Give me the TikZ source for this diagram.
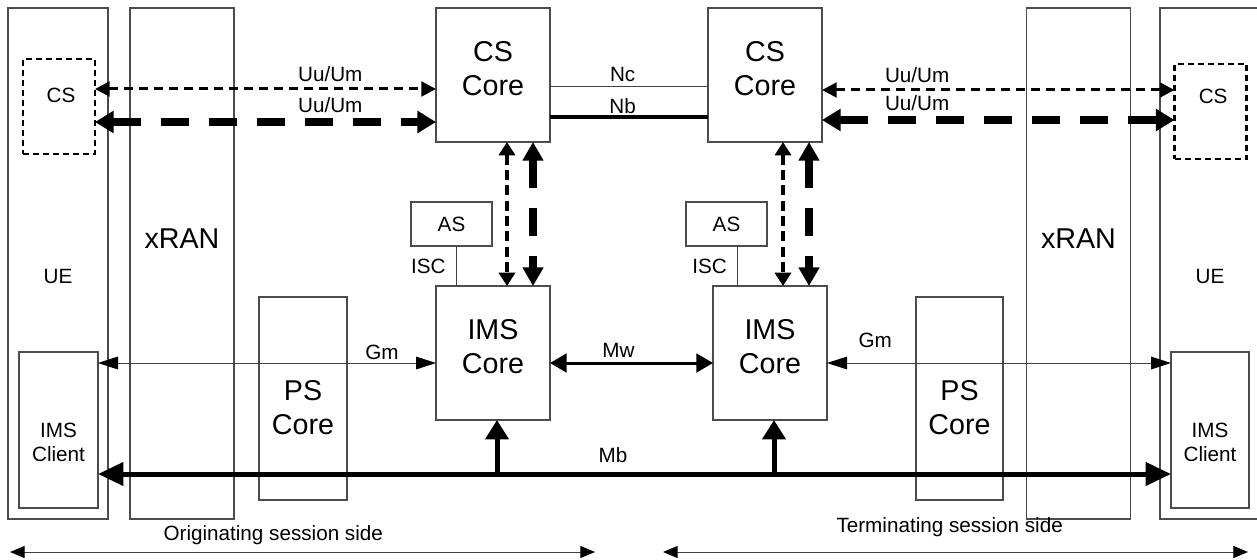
\documentclass[tikz,border=0pt]{standalone}
\usepackage{fontspec}
\setmainfont{Liberation Sans}
\usetikzlibrary{arrows.meta}

\begin{document}
\begin{tikzpicture}[
    x=0.75pt, y=-0.75pt,
    box/.style={rectangle, draw=black!70, line width=0.8pt, inner sep=0pt, outer sep=0pt},
    dbox/.style={rectangle, draw=black, line width=1.6pt, dash pattern=on 4.5pt off 3pt, inner sep=0pt, outer sep=0pt},
    bigtxt/.style={font=\fontsize{21.5}{25.5}\selectfont, align=center},
    smalltxt/.style={font=\fontsize{15.5}{18}\selectfont, align=center},
    lbl/.style={font=\fontsize{15.5}{18}\selectfont, inner sep=0pt},
    thinarr/.style={{Triangle[length=15pt,width=9.5pt,color=black]}-{Triangle[length=15pt,width=9.5pt,color=black]}, line width=0.75pt, draw=black!75},
    sidearr/.style={{Triangle[length=11pt,width=9pt,color=black]}-{Triangle[length=11pt,width=9pt,color=black]}, line width=0.75pt, draw=black!75},
    uuthin/.style={{Triangle[length=11pt,width=11pt]}-{Triangle[length=11pt,width=11pt]}, line width=2.25pt, dash pattern=on 6.75pt off 4.5pt},
    uuthick/.style={{Triangle[length=14pt,width=16pt]}-{Triangle[length=14pt,width=16pt]}, line width=5.5pt, dash pattern=on 21pt off 15pt},
    vthin/.style={{Triangle[length=10pt,width=12pt]}-{Triangle[length=10pt,width=12pt]}, line width=2.5pt, dash pattern=on 7.5pt off 4pt},
    vthick/.style={{Triangle[length=14pt,width=15pt]}-{Triangle[length=14pt,width=15pt]}, line width=6pt, dash pattern=on 21pt off 15pt},
    mwarr/.style={{Triangle[length=12.5pt,width=14pt]}-{Triangle[length=12.5pt,width=14pt]}, line width=2.25pt},
    mbarr/.style={{Triangle[length=19pt,width=17pt]}-{Triangle[length=19pt,width=17pt]}, line width=3.75pt},
    uparr/.style={-{Triangle[length=14.5pt,width=17pt]}, line width=3.75pt}
]
\clip (0,0) rectangle (1257,560);

% Levels of the connectors
\coordinate (uuL1) at (0,89);
\coordinate (uuL2) at (0,122);
\coordinate (uuR1) at (0,90);
\coordinate (uuR2) at (0,120);
\coordinate (nc) at (0,87);
\coordinate (nb) at (0,117);
\coordinate (gm) at (0,363);
\coordinate (mb) at (0,474);
\coordinate (vL1) at (507,0);
\coordinate (vL2) at (533,0);
\coordinate (vR1) at (783,0);
\coordinate (vR2) at (809,0);

% Left: UE, xRAN, PS Core
\node[box, minimum width=75pt, minimum height=383.25pt, label={[smalltxt, yshift=-10pt]center:UE}] (ueL) at (58,263.5) {};
\node[box, minimum width=78pt, minimum height=383.25pt, label={[bigtxt, yshift=19pt]center:xRAN}] (xranL) at (182,263.5) {};
\node[dbox, minimum width=54pt, minimum height=71.25pt, label={[smalltxt, yshift=8pt, xshift=1.5pt]center:CS}] (csL) at (59,106.5) {};
\node[box, fill=white, minimum width=59.25pt, minimum height=117pt, label={[smalltxt, yshift=-9pt]center:{IMS\\Client}}] (clientL) at (58.5,430) {};
\node[box, minimum width=66pt, minimum height=152.25pt, label={[bigtxt, yshift=-6.75pt]center:{PS\\Core}}] (psL) at (303,398.5) {};

% Right: UE, xRAN, PS Core
\node[box, minimum width=75pt, minimum height=383.25pt, label={[smalltxt, yshift=-10pt]center:UE}] (ueR) at (1210,263.5) {};
\node[box, minimum width=78pt, minimum height=383.25pt, label={[bigtxt, yshift=19pt]center:xRAN}] (xranR) at (1078.5,263.5) {};
\node[dbox, minimum width=54pt, minimum height=71.25pt, label={[smalltxt, yshift=11.5pt, xshift=2pt]center:CS}] (csR) at (1210.5,111.5) {};
\node[box, fill=white, minimum width=58.5pt, minimum height=117pt, label={[smalltxt, yshift=-9pt]center:{IMS\\Client}}] (clientR) at (1210,430) {};
\node[box, minimum width=65.25pt, minimum height=152.25pt, label={[bigtxt, yshift=-6.75pt]center:{PS\\Core}}] (psR) at (959.5,398.5) {};

% Centre: CS Core, AS, IMS Core
\node[box, minimum width=85.5pt, minimum height=100.5pt, label={[bigtxt, yshift=4.5pt]center:{CS\\Core}}] (cscoreL) at (493,75) {};
\node[box, minimum width=85.5pt, minimum height=100.5pt, label={[bigtxt, yshift=4.5pt]center:{CS\\Core}}] (cscoreR) at (765,75) {};
\node[box, smalltxt, minimum width=60.75pt, minimum height=33pt] (asL) at (451.5,224) {AS};
\node[box, smalltxt, minimum width=60.75pt, minimum height=33pt] (asR) at (726.5,224) {AS};
\node[box, minimum width=85.5pt, minimum height=100.5pt, label={[bigtxt, yshift=4.5pt]center:{IMS\\Core}}] (imsL) at (493,353) {};
\node[box, minimum width=85.5pt, minimum height=100.5pt, label={[bigtxt, yshift=4.5pt]center:{IMS\\Core}}] (imsR) at (770,353) {};

% Uu/Um
\draw[uuthin]  (csL.east |- uuL1) -- node[lbl, pos=0.69, above=4.5pt] {Uu/Um} (cscoreL.west |- uuL1);
\draw[uuthick] (csL.east |- uuL2) -- node[lbl, pos=0.69, above=4.5pt] {Uu/Um} (cscoreL.west |- uuL2);
\draw[uuthin]  (cscoreR.east |- uuR1) -- node[lbl, pos=0.27, above=4.5pt] {Uu/Um} (csR.west |- uuR1);
\draw[uuthick] (cscoreR.east |- uuR2) -- node[lbl, pos=0.27, above=4.5pt] {Uu/Um} (csR.west |- uuR2);

% Nc, Nb
\draw[line width=0.75pt, draw=black!75] (cscoreL.east |- nc) -- node[lbl, pos=0.46, above=3.75pt] {Nc} (cscoreR.west |- nc);
\draw[line width=3.25pt] (cscoreL.east |- nb) -- node[lbl, pos=0.46, above=0.5pt] {Nb} (cscoreR.west |- nb);

% CS Core to IMS Core
\draw[vthin]  (cscoreL.south -| vL1) -- (imsL.north -| vL1);
\draw[vthick] (cscoreL.south -| vL2) -- (imsL.north -| vL2);
\draw[vthin]  (cscoreR.south -| vR1) -- (imsR.north -| vR1);
\draw[vthick] (cscoreR.south -| vR2) -- (imsR.north -| vR2);

% ISC
\draw[line width=0.75pt, draw=black!75] ([xshift=4pt]asL.south) -- node[smalltxt, left=8pt, inner sep=0pt] {ISC} ([xshift=4pt]asL.south |- imsL.north);
\draw[line width=0.75pt, draw=black!75] ([xshift=8.6pt]asR.south) -- node[smalltxt, left=8pt, inner sep=0pt] {ISC} ([xshift=8.6pt]asR.south |- imsR.north);

% Gm, Mw, Mb
\draw[thinarr] (clientL.east |- gm) -- node[lbl, pos=0.84, above=2.25pt] {Gm} (imsL.west |- gm);
\draw[thinarr] (imsR.east |- gm) -- node[lbl, pos=0.14, above=11pt] {Gm} (clientR.west |- gm);
\draw[mwarr] (imsL.east |- gm) -- node[lbl, pos=0.42, above=3pt] {Mw} (imsR.west |- gm);
\draw[mbarr] (clientL.east |- mb) -- node[lbl, pos=0.48, above=6.5pt] {Mb} (clientR.west |- mb);
\draw[uparr] ([xshift=3pt]imsL.south |- mb) -- ([xshift=3pt]imsL.south);
\draw[uparr] ([xshift=3pt]imsR.south |- mb) -- ([xshift=3pt]imsR.south);

% Session sides
\coordinate (origA) at (10,552);
\coordinate (origB) at (595,552);
\coordinate (termA) at (663,552);
\coordinate (termB) at (1248,552);
\draw[sidearr] (origA) -- node[lbl, pos=0.45, above=4.75pt] {Originating session side} (origB);
\draw[sidearr] (termA) -- node[lbl, pos=0.49, above=10.75pt] {Terminating session side} (termB);

\end{tikzpicture}
\end{document}
